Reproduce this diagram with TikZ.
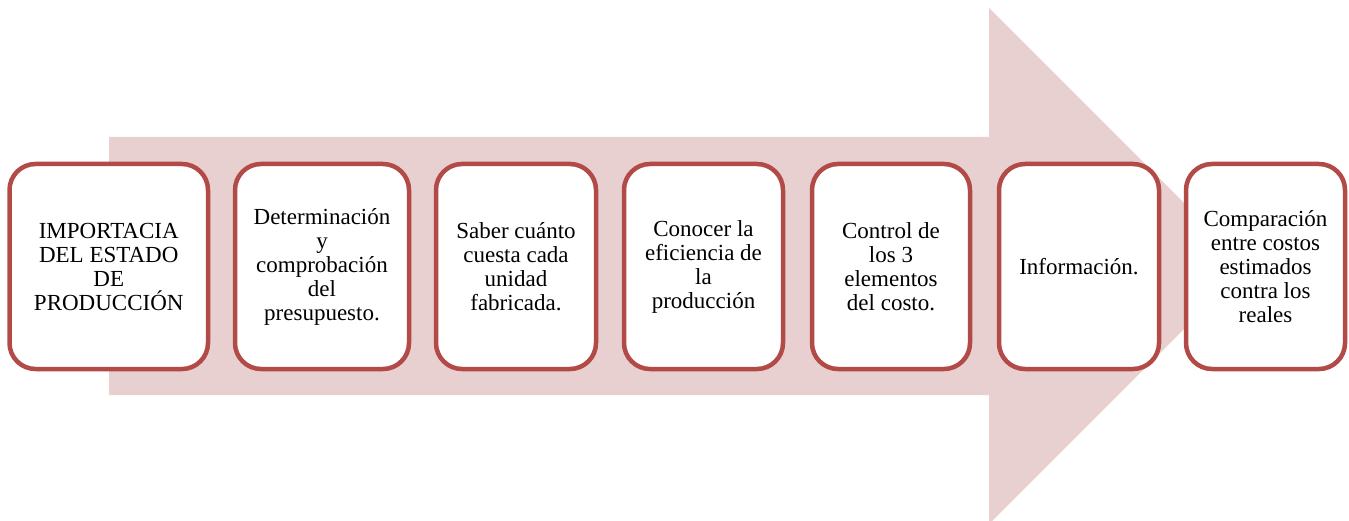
\documentclass[tikz,border=0pt]{standalone}
\usepackage{fontspec}
\setmainfont{Liberation Serif}
\definecolor{arrowfill}{HTML}{E8CFD0}
\definecolor{boxline}{HTML}{B24A47}
\begin{document}
\begin{tikzpicture}[x=1pt,y=-1pt,
  stepbox/.style={draw=boxline, line width=4.5pt, fill=white, rounded corners=26pt,
    minimum height=205pt, inner sep=0pt, align=center,
    font=\fontsize{23}{24}\selectfont}]
\useasboundingbox (0,0) rectangle (1349,521);
\fill[arrowfill] (109,137) -- (989,137) -- (989,8) -- (1247,266) -- (989,524) -- (989,395) -- (109,395) -- cycle;
\node[stepbox, minimum width=198.5pt] (b1) at (108.75,266.5) {IMPORTACIA\\DEL ESTADO\\DE\\PRODUCCIÓN};
\node[stepbox, minimum width=174pt] (b2) at (322,266.5) {Determinación\\y\\comprobación\\del\\presupuesto.};
\node[stepbox, minimum width=160pt] (b3) at (516,266.5) {Saber cuánto\\cuesta cada\\unidad\\fabricada.};
\node[stepbox, minimum width=159pt] (b4) at (703.5,266.5) {Conocer la\\eficiencia de\\la\\producción};
\node[stepbox, minimum width=158pt] (b5) at (891,266.5) {Control de\\los 3\\elementos\\del costo.};
\node[stepbox, minimum width=160pt] (b6) at (1079,266.5) {Información.};
\node[stepbox, minimum width=159pt] (b7) at (1265.5,266.5) {Comparación\\entre costos\\estimados\\contra los\\reales};
\end{tikzpicture}
\end{document}
